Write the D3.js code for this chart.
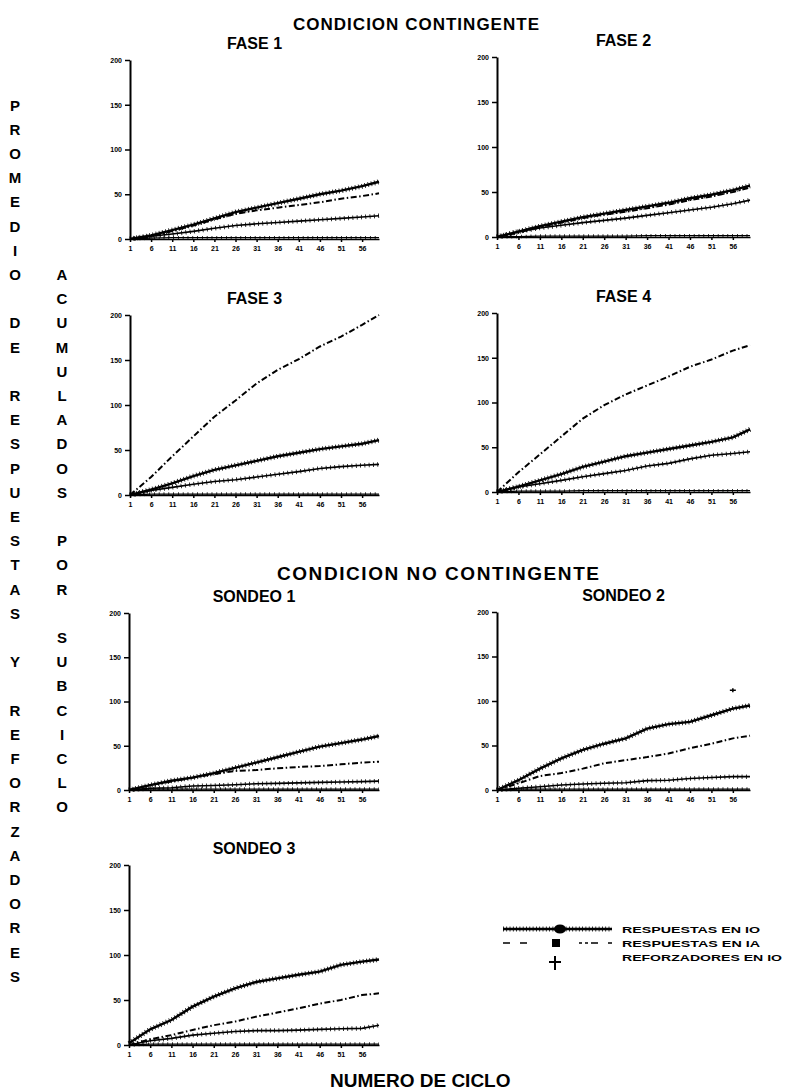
<!DOCTYPE html>
<html>
<head>
<meta charset="utf-8">
<script src="https://cdn.jsdelivr.net/npm/d3@7"></script>
<style>
body { margin: 0; background: #fff; }
svg { display: block; }
text { font-family: 'Liberation Sans', Arial, sans-serif; font-weight: bold; fill: #000; }
</style>
</head>
<body>
<svg></svg>
<script>
// ciclos muestreados (eje x) y marcas de los ejes
var cycles = [1, 6, 11, 16, 21, 26, 31, 36, 41, 46, 51, 56, 60]
var xTicks = [1, 6, 11, 16, 21, 26, 31, 36, 41, 46, 51, 56]
var yTicks = [0, 50, 100, 150, 200]

var panelTitles = ['FASE 1', 'FASE 2', 'FASE 3', 'FASE 4', 'SONDEO 1', 'SONDEO 2', 'SONDEO 3']
var legendLabels = ['RESPUESTAS EN IO', 'RESPUESTAS EN IA', 'REFORZADORES EN IO']

// promedio acumulado por subciclo
var fase1IO    = [0, 4, 10, 16, 23, 30, 35, 40, 45, 50, 54, 59, 64]
var fase1IA    = [0, 3, 9, 15, 22, 28, 32, 35, 38, 41, 45, 48, 51]
var fase1RefIO = [0, 3, 5.5, 8.5, 12, 15, 17, 18.5, 20, 21.5, 23, 24.5, 26]
var fase1RefIA = [0, 1, 1.5, 1.5, 1.5, 1.5, 1.5, 1.5, 1.5, 1.5, 1.5, 1.5, 1.5]

var fase2IO    = [0, 6, 12, 17, 22, 26, 30, 34, 38, 43, 47, 52, 57]
var fase2IA    = [0, 5, 11, 16, 21, 25, 28, 32, 36, 41, 45, 50, 55]
var fase2RefIO = [0, 6, 10, 13, 16, 18.5, 21, 24, 27, 30, 33, 37, 41]
var fase2RefIA = [0, 0.5, 1, 1, 1, 1, 1, 1.5, 1.5, 1.5, 1.5, 1.5, 1.5]

var fase3IO    = [0, 6, 13, 21, 28, 33, 38, 43, 47, 51, 54, 57, 61]
var fase3IA    = [0, 20, 43, 65, 87, 105, 124, 139, 151, 165, 176, 189, 200]
var fase3RefIO = [0, 5, 8.5, 12, 15, 17, 20, 23, 26, 29.5, 31.5, 33, 34]
var fase3RefIA = [0, 1, 1, 1, 1, 1, 1, 1, 1, 1, 1, 1, 1]

var fase4IO    = [0, 6, 13, 20, 28, 34, 40, 44, 48, 52, 56, 61, 70]
var fase4IA    = [0, 22, 42, 62, 82, 97, 109, 119, 129, 140, 148, 158, 164]
var fase4RefIO = [0, 5.6, 9.3, 13, 17, 20.5, 24, 29, 32, 37, 41, 43, 45]
var fase4RefIA = [0, 1, 1, 1, 1.5, 1.5, 1.5, 1.5, 1.5, 1.5, 1.5, 1.5, 1.5]

var sondeo1IO    = [0, 5.5, 10.5, 14, 19, 25, 31, 37, 43, 49, 53, 57, 61]
var sondeo1IA    = [0, 5.5, 9.5, 14, 18, 21.5, 22.5, 24.5, 26, 27, 29, 31, 32]
var sondeo1RefIO = [0, 2, 2.5, 4.5, 5, 6, 7, 7.5, 8, 8.6, 9, 9.5, 10]
var sondeo1RefIA = [0, 1, 1, 1, 1, 1, 1, 1, 1, 1, 1, 1, 1]

var sondeo2IO    = [0, 11, 24, 35.5, 45, 52, 58, 69, 74, 76.5, 84, 91.5, 95]
var sondeo2IA    = [0, 7.5, 15.7, 19, 24, 30, 33.6, 37, 41, 47, 52, 58, 61]
var sondeo2RefIO = [0, 1.9, 3.7, 5.6, 6.7, 7.5, 8.2, 10.5, 11, 13, 14, 15, 15]
var sondeo2RefIA = [0, 1, 1, 1, 1, 1, 1, 1, 1, 1, 1, 1, 1]
var sondeo2Stray = [[56, 112]]

var sondeo3IO    = [2, 17.4, 27.8, 42.6, 53.7, 63, 70, 74, 78, 81.5, 89, 92.6, 95]
var sondeo3IA    = [0, 6.3, 11, 16.7, 22, 26, 31.5, 36, 40.7, 46, 50, 55.5, 57.4]
var sondeo3RefIO = [0, 4.8, 7.4, 11, 13, 15, 16, 16, 16.5, 17.4, 18, 18.5, 22]
var sondeo3RefIA = [0, 1, 1, 1, 1, 1, 1, 1, 1, 1, 1, 1, 1]

var width = 787
var height = 1091

var svg = d3.select('svg').attr('width', width).attr('height', height)

// caja de cada grafico: [x izquierda, x derecha, y arriba (200), y abajo (0)]
var panels = [
	{title: panelTitles[0], io: fase1IO, ia: fase1IA, refIO: fase1RefIO, refIA: fase1RefIA, box: [130, 379, 60, 239]},
	{title: panelTitles[1], io: fase2IO, ia: fase2IA, refIO: fase2RefIO, refIA: fase2RefIA, box: [497, 750, 57, 237]},
	{title: panelTitles[2], io: fase3IO, ia: fase3IA, refIO: fase3RefIO, refIA: fase3RefIA, box: [130, 379, 315, 495]},
	{title: panelTitles[3], io: fase4IO, ia: fase4IA, refIO: fase4RefIO, refIA: fase4RefIA, box: [497, 750, 313, 492]},
	{title: panelTitles[4], io: sondeo1IO, ia: sondeo1IA, refIO: sondeo1RefIO, refIA: sondeo1RefIA, box: [129, 379, 613, 790]},
	{title: panelTitles[5], io: sondeo2IO, ia: sondeo2IA, refIO: sondeo2RefIO, refIA: sondeo2RefIA, box: [497, 750, 612, 790], stray: sondeo2Stray},
	{title: panelTitles[6], io: sondeo3IO, ia: sondeo3IA, refIO: sondeo3RefIO, refIA: sondeo3RefIA, box: [129, 379, 865, 1045]}
]

// estilo de cada serie: linea base + rayado (para imitar el trazo con marcas)
var styles = {
	refIA: {w: 1.3, dash: null, hatchW: 3.5, hatch: '0.8,4'},
	refIO: {w: 1.6, dash: null, hatchW: 4.5, hatch: '0.8,3.5'},
	ia:    {w: 2, dash: '6,2.5,1.5,2.5', hatchW: 0, hatch: null},
	io:    {w: 2.4, dash: null, hatchW: 5, hatch: '0.8,2.5'}
}

panels.forEach(function(p) {
	var b = p.box
	var x = d3.scaleLinear().domain([1, 60]).range([b[0], b[1]])
	var y = d3.scaleLinear().domain([0, 200]).range([b[3], b[2]])
	var g = svg.append('g').attr('class', 'panel')

	g.append('text')
		.attr('x', (b[0] + b[1]) / 2)
		.attr('y', b[2] - 11)
		.attr('text-anchor', 'middle')
		.style('font-size', '16px')
		.text(p.title)

	var yAxis = g.append('g')
		.attr('transform', 'translate(' + b[0] + ',0)')
		.call(d3.axisLeft(y).tickValues(yTicks).tickSize(5).tickSizeOuter(0).tickPadding(3))
	yAxis.select('.domain').attr('stroke-width', 2)
	yAxis.selectAll('.tick line').attr('stroke-width', 1.5)
	yAxis.selectAll('text').style('font-size', '7px').style('font-family', "'Liberation Sans', Arial, sans-serif").style('font-weight', 'bold')

	var xAxis = g.append('g')
		.attr('transform', 'translate(0,' + b[3] + ')')
		.call(d3.axisBottom(x).tickValues(xTicks).tickSize(3).tickSizeOuter(0).tickPadding(4))
	xAxis.select('.domain').attr('stroke-width', 1.6)
	xAxis.selectAll('.tick line').attr('stroke-width', 1.5)
	xAxis.selectAll('text').style('font-size', '7px').style('font-family', "'Liberation Sans', Arial, sans-serif").style('font-weight', 'bold')

	var line = d3.line()
		.x(function(d, i) {return x(cycles[i])})
		.y(function(d) {return y(d)})

	;['refIA', 'refIO', 'ia', 'io'].forEach(function(key) {
		var s = styles[key]
		g.append('path')
			.attr('d', line(p[key]))
			.attr('fill', 'none')
			.attr('stroke', '#000')
			.attr('stroke-width', s.w)
			.attr('stroke-dasharray', s.dash)
		if (s.hatch) {
			g.append('path')
				.attr('d', line(p[key]))
				.attr('fill', 'none')
				.attr('stroke', '#000')
				.attr('stroke-width', s.hatchW)
				.attr('stroke-dasharray', s.hatch)
		}
	})

	if (p.stray) {
		g.selectAll('.stray').data(p.stray).enter().append('path')
			.attr('class', 'stray')
			.attr('d', function(d) {
				var cx = x(d[0]), cy = y(d[1])
				return 'M' + (cx - 3) + ',' + cy + 'H' + (cx + 3) + 'M' + cx + ',' + (cy - 2) + 'V' + (cy + 2)
			})
			.attr('stroke', '#000')
			.attr('stroke-width', 1.5)
	}
})

// titulos generales
svg.append('text').attr('x', 293).attr('y', 30).style('font-size', '17px')
	.attr('textLength', 246).attr('lengthAdjust', 'spacing')
	.text('CONDICION  CONTINGENTE')
svg.append('text').attr('x', 277).attr('y', 580).style('font-size', '19px')
	.attr('textLength', 322).attr('lengthAdjust', 'spacing')
	.text('CONDICION NO CONTINGENTE')
svg.append('text').attr('x', 330).attr('y', 1087).style('font-size', '19px')
	.text('NUMERO DE CICLO')

// rotulo vertical, una letra por renglon
var col1 = 'PROMEDIO DE RESPUESTAS Y REFORZADORES'
var col2 = 'ACUMULADOS POR SUBCICLO'
var step = 24.2
function verticalText(str, cx, startSlot) {
	str.split('').forEach(function(ch, i) {
		if (ch === ' ') return
		svg.append('text')
			.attr('x', cx)
			.attr('y', 105 + (startSlot + i) * step + 5.5)
			.attr('text-anchor', 'middle')
			.style('font-size', '15px')
			.text(ch)
	})
}
verticalText(col1, 15, 0)
verticalText(col2, 62, 7)

// leyenda
var legend = svg.append('g').attr('class', 'legend')
var rowY = [929, 943, 957]
legend.append('line').attr('x1', 503).attr('x2', 612).attr('y1', rowY[0]).attr('y2', rowY[0])
	.attr('stroke', '#000').attr('stroke-width', 2.4)
legend.append('line').attr('x1', 503).attr('x2', 612).attr('y1', rowY[0]).attr('y2', rowY[0])
	.attr('stroke', '#000').attr('stroke-width', 5).attr('stroke-dasharray', '0.8,2.5')
legend.append('ellipse').attr('cx', 560).attr('cy', rowY[0]).attr('rx', 6).attr('ry', 4.5).attr('fill', '#000')

legend.append('line').attr('x1', 503).attr('x2', 612).attr('y1', rowY[1]).attr('y2', rowY[1])
	.attr('stroke', '#000').attr('stroke-width', 1.5).attr('stroke-dasharray', '7,10,7,25,7,20,3,3,3,3')
legend.append('rect').attr('x', 552).attr('y', rowY[1] - 4).attr('width', 8).attr('height', 8).attr('fill', '#000')

legend.append('path')
	.attr('d', 'M549,' + (rowY[2] + 5) + 'H561M555,' + (rowY[2] - 1) + 'V' + (rowY[2] + 13))
	.attr('stroke', '#000').attr('stroke-width', 2)

legend.selectAll('.label').data(legendLabels).enter().append('text')
	.attr('class', 'label')
	.attr('x', 622)
	.attr('y', function(d, i) {return rowY[i] + 3.5})
	.attr('textLength', function(d, i) {return i === 2 ? 160 : 138})
	.attr('lengthAdjust', 'spacingAndGlyphs')
	.style('font-size', '9px')
	.text(function(d) {return d})
</script>
</body>
</html>
